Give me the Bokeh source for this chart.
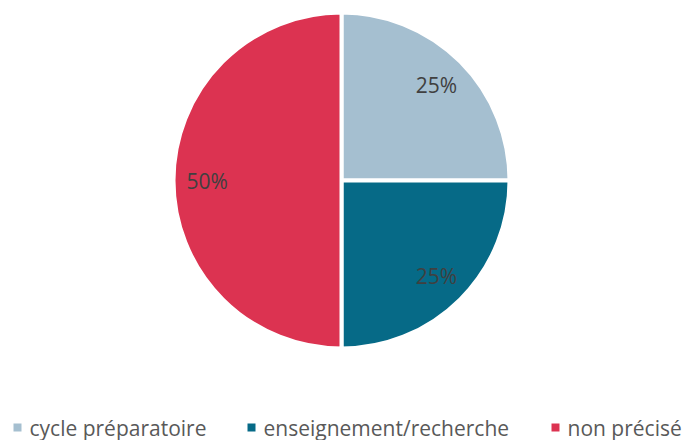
import math
from bokeh.plotting import figure
from bokeh.models import ColumnDataSource
from bokeh.core.properties import value
from bokeh.embed import file_html
from bokeh.resources import INLINE

# ---- data ----
categories = ["cycle préparatoire", "enseignement/recherche", "non précisé"]
shares = [25, 25, 50]
labels = ["25%", "25%", "50%"]
colors = ["#A5BFD0", "#066A87", "#DC3351"]

# ---- layout ----
W, H = 683, 440
cx, cy = 341, 260
R = 168
label_ratio = 0.8
legend_x = [17, 251, 555]      # marker centres
legend_text_gap = 12
legend_y = 13
FONT = "Open Sans"

total = float(sum(shares))
starts, ends, lx, ly = [], [], [], []
acc = 0.0
for s in shares:
    a0 = math.pi / 2 - 2 * math.pi * acc / total
    acc += s
    a1 = math.pi / 2 - 2 * math.pi * acc / total
    starts.append(a0)
    ends.append(a1)
    mid = (a0 + a1) / 2
    lx.append(cx + R * label_ratio * math.cos(mid))
    ly.append(cy + R * label_ratio * math.sin(mid))

src = ColumnDataSource(dict(cat=categories, start=starts, end=ends, color=colors,
                            lx=lx, ly=ly, lab=labels,
                            gx=legend_x, gy=[legend_y] * len(categories),
                            tx=[x + legend_text_gap for x in legend_x]))

p = figure(width=W, height=H, x_range=(0, W), y_range=(0, H),
           output_backend="svg", toolbar_location=None, min_border=0)
p.axis.visible = False
p.grid.visible = False
p.outline_line_color = None
p.background_fill_color = "white"
p.border_fill_color = "white"

p.wedge(x=cx, y=cy, radius=R, start_angle="start", end_angle="end",
        direction="clock", fill_color="color", line_color="white",
        line_width=4, source=src)

p.text(x="lx", y="ly", text="lab", source=src, text_align="center",
       text_baseline="middle", text_font=value(FONT), text_font_size="21px",
       text_color="#404040")

p.scatter(x="gx", y="gy", marker="square", size=8, fill_color="color",
          line_color=None, source=src)
p.text(x="tx", y="gy", text="cat", source=src, text_align="left",
       text_baseline="middle", text_font=value(FONT), text_font_size="21px",
       text_color="#595959")

open("out.html", "w").write(file_html(p, INLINE))
